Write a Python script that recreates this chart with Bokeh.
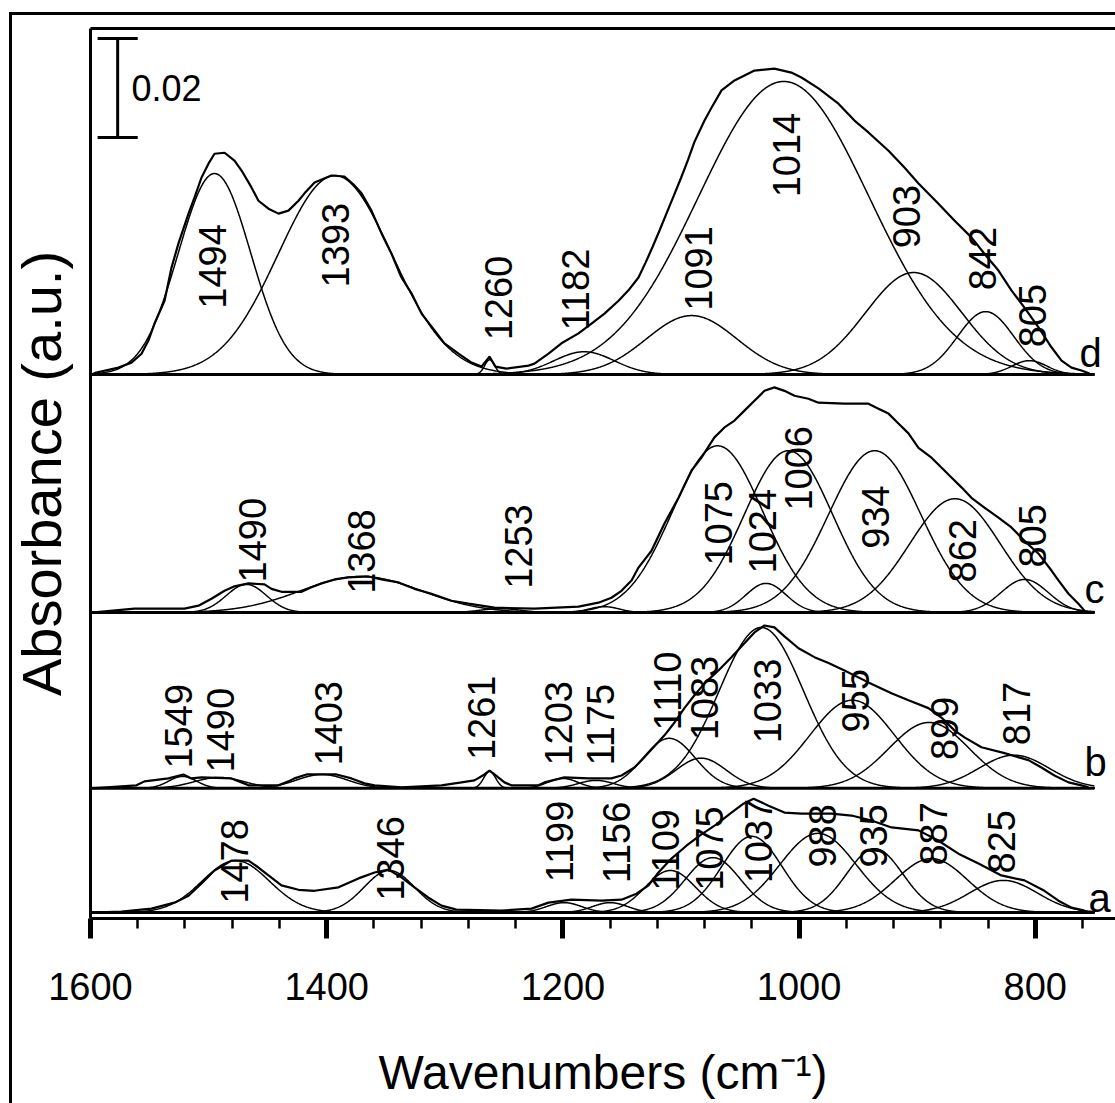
import numpy as np
from bokeh.plotting import figure
from bokeh.models import Range1d, LinearAxis, FixedTicker
from bokeh.core.properties import value
from bokeh.embed import file_html
from bokeh.resources import INLINE

# ---------------- data ----------------
# vertical offset (absorbance) of each spectrum's baseline
spectrum_names = ["a", "b", "c", "d"]
spectrum_offsets = [0.0012, 0.0263, 0.0618, 0.1099]
wn_first, wn_last = 1600, 750

# measured spectra (wavenumber, absorbance above own baseline)
a_env = [(1599.2,0.0000),(1573.8,0.0002),(1548.4,0.0008),(1528.9,0.0020),(1517.0,0.0034),(1506.0,0.0059),
         (1495.0,0.0085),(1480.6,0.0105),(1466.2,0.0105),(1457.8,0.0091),(1449.3,0.0075),(1438.3,0.0055),
         (1423.9,0.0046),(1410.3,0.0044),(1390.0,0.0051),(1373.1,0.0069),(1359.5,0.0081),(1347.7,0.0087),
         (1336.7,0.0071),(1325.7,0.0051),(1313.8,0.0030),(1302.8,0.0014),(1290.1,0.0006),(1252.0,0.0004),
         (1226.6,0.0008),(1212.2,0.0020),(1192.7,0.0026),(1167.3,0.0024),(1150.4,0.0026),(1137.7,0.0038),
         (1127.5,0.0055),(1119.1,0.0081),(1108.1,0.0109),(1095.4,0.0135),(1082.7,0.0158),(1070.0,0.0178),
         (1057.3,0.0202),(1047.1,0.0220),(1038.6,0.0230),(1025.9,0.0216),(1012.4,0.0202),(998.0,0.0200),
         (972.6,0.0200),(955.6,0.0196),(938.7,0.0186),(921.8,0.0172),(898.9,0.0166),(882.0,0.0145),
         (865.1,0.0119),(848.1,0.0099),(828.7,0.0075),(809.2,0.0065),(792.3,0.0044),(780.4,0.0024),
         (769.4,0.0010),(758.4,0.0004)]
b_env = [(1599.2,0.0000),(1561.1,0.0006),(1554.3,0.0014),(1534.0,0.0020),(1521.3,0.0028),(1514.5,0.0020),
         (1506.0,0.0022),(1480.6,0.0020),(1472.1,0.0012),(1466.2,0.0006),(1440.8,0.0006),(1432.4,0.0014),
         (1427.3,0.0020),(1417.1,0.0028),(1391.7,0.0028),(1379.0,0.0020),(1368.0,0.0010),(1359.5,0.0006),
         (1336.7,0.0002),(1302.8,0.0006),(1285.9,0.0012),(1274.9,0.0016),(1266.4,0.0028),(1262.2,0.0036),
         (1257.9,0.0028),(1249.5,0.0012),(1243.5,0.0006),(1220.7,0.0006),(1215.6,0.0012),(1198.7,0.0022),
         (1178.3,0.0020),(1158.9,0.0020),(1150.4,0.0026),(1139.4,0.0042),(1130.9,0.0063),(1122.5,0.0085),
         (1114.0,0.0107),(1105.5,0.0133),(1097.1,0.0162),(1088.6,0.0188),(1080.1,0.0212),(1068.3,0.0238),
         (1057.3,0.0265),(1046.3,0.0293),(1037.8,0.0315),(1029.3,0.0329),(1020.9,0.0325),(1012.4,0.0307),
         (1000.5,0.0283),(987.0,0.0265),(975.1,0.0253),(961.6,0.0238),(941.3,0.0214),(921.8,0.0192),
         (907.4,0.0178),(890.5,0.0162),(879.5,0.0143),(868.5,0.0117),(860.0,0.0103),(845.6,0.0083),
         (826.1,0.0071),(805.8,0.0057),(794.8,0.0042),(783.8,0.0026),(771.9,0.0012),(760.9,0.0006),
         (755.0,0.0002)]
c_env = [(1599.2,0.0000),(1562.7,0.0008),(1520.4,0.0008),(1508.6,0.0014),(1497.6,0.0028),(1486.5,0.0044),
         (1478.1,0.0053),(1466.2,0.0059),(1452.7,0.0057),(1446.7,0.0048),(1438.3,0.0042),(1421.3,0.0042),
         (1412.9,0.0051),(1404.4,0.0059),(1393.4,0.0067),(1381.6,0.0071),(1364.6,0.0073),(1353.6,0.0067),
         (1339.2,0.0061),(1325.7,0.0048),(1311.3,0.0038),(1294.3,0.0024),(1280.0,0.0018),(1258.0,0.0010),
         (1224.1,0.0008),(1186.8,0.0012),(1169.9,0.0020),(1158.9,0.0030),(1150.4,0.0044),(1141.9,0.0065),
         (1136.0,0.0091),(1125.0,0.0125),(1114.0,0.0180),(1102.1,0.0232),(1091.1,0.0287),(1082.7,0.0313),
         (1071.7,0.0354),(1063.2,0.0374),(1054.7,0.0388),(1046.3,0.0408),(1037.8,0.0428),(1029.3,0.0448),
         (1020.9,0.0455),(1012.4,0.0448),(1003.9,0.0438),(992.1,0.0432),(983.6,0.0424),(961.6,0.0422),
         (941.3,0.0422),(932.8,0.0412),(924.3,0.0402),(915.9,0.0382),(907.4,0.0362),(898.9,0.0333),
         (887.9,0.0313),(879.5,0.0293),(871.0,0.0273),(862.5,0.0253),(854.1,0.0232),(843.1,0.0212),
         (831.2,0.0192),(820.2,0.0172),(809.2,0.0145),(797.3,0.0119),(786.3,0.0085),(780.4,0.0065),
         (771.9,0.0038),(763.5,0.0018),(758.4,0.0004)]
d_env = [(1599.2,0.0000),(1595.0,0.0004),(1576.3,0.0014),(1565.3,0.0024),(1556.8,0.0042),(1550.9,0.0069),
         (1545.8,0.0103),(1537.3,0.0149),(1531.4,0.0216),(1525.5,0.0265),(1517.0,0.0325),(1511.9,0.0358),
         (1506.0,0.0398),(1500.1,0.0426),(1495.0,0.0446),(1486.5,0.0448),(1478.1,0.0432),(1472.1,0.0412),
         (1463.7,0.0378),(1457.8,0.0351),(1449.3,0.0335),(1440.8,0.0325),(1432.4,0.0331),(1423.9,0.0351),
         (1418.8,0.0366),(1410.3,0.0388),(1396.0,0.0402),(1385.0,0.0400),(1376.5,0.0382),(1370.5,0.0366),
         (1362.1,0.0331),(1353.6,0.0285),(1345.1,0.0244),(1336.7,0.0196),(1328.2,0.0164),(1319.7,0.0123),
         (1308.7,0.0089),(1300.3,0.0063),(1288.4,0.0042),(1277.4,0.0024),(1268.9,0.0016),(1262.2,0.0036),
         (1257.1,0.0016),(1247.8,0.0012),(1229.1,0.0018),(1224.1,0.0022),(1212.2,0.0042),(1201.2,0.0063),
         (1186.8,0.0083),(1175.8,0.0103),(1164.8,0.0123),(1152.9,0.0149),(1144.5,0.0170),(1136.0,0.0196),
         (1130.0,0.0226),(1124.0,0.0258),(1118.0,0.0292),(1112.0,0.0327),(1106.0,0.0362),(1100.0,0.0397),
         (1094.0,0.0434),(1088.6,0.0470),(1080.1,0.0513),(1074.2,0.0539),(1065.7,0.0574),(1054.7,0.0594),
         (1037.8,0.0614),(1020.9,0.0618),(1006.5,0.0610),(998.0,0.0600),(983.6,0.0578),(966.7,0.0547),
         (953.1,0.0513),(941.3,0.0489),(924.3,0.0452),(910.8,0.0418),(898.9,0.0386),(882.0,0.0345),
         (868.5,0.0311),(854.1,0.0277),(843.1,0.0244),(831.2,0.0210),(820.2,0.0170),(809.2,0.0135),
         (797.3,0.0095),(786.3,0.0055),(777.8,0.0028),(769.4,0.0014),(760.9,0.0008),(754.1,0.0002)]

# fitted bands: centre (cm-1), height (absorbance), FWHM (cm-1)
a_center = [1477, 1347, 1199, 1160, 1109, 1073, 1040, 984, 936, 888, 827]
a_height = [0.0105, 0.0085, 0.0020, 0.0020, 0.0085, 0.0111, 0.0154, 0.0160, 0.0129, 0.0109, 0.0065]
a_fwhm = [67, 50, 35, 35, 50, 55, 60, 76, 56, 72, 68]

b_center = [1522, 1491, 1404, 1262, 1200, 1172, 1110, 1083, 1032, 955, 890, 818]
b_height = [0.0024, 0.0022, 0.0028, 0.0034, 0.0020, 0.0016, 0.0101, 0.0061, 0.0325, 0.0178, 0.0133, 0.0067]
b_fwhm = [28, 50, 50, 12, 30, 35, 52, 50, 84, 84, 80, 70]

c_center = [1468, 1371, 1253, 1165, 1069, 1028, 1009, 936, 868, 809]
c_height = [0.0057, 0.0073, 0.0008, 0.0012, 0.0337, 0.0059, 0.0327, 0.0327, 0.0230, 0.0067]
c_fwhm = [40, 120, 40, 30, 90, 40, 88, 92, 90, 47]

d_center = [1495, 1393, 1262, 1182, 1091, 1013, 903, 842, 805]
d_height = [0.0406, 0.0402, 0.0030, 0.0046, 0.0119, 0.0592, 0.0206, 0.0127, 0.0028]
d_fwhm = [72, 113, 10, 60, 90, 170, 96, 56, 35]

# band labels: text, position (cm-1), height of label start above baseline
a_labels = ["1478", "1346", "1199", "1156", "1109", "1075", "1037", "988", "935", "887", "825"]
a_label_wn = [1478.1, 1346.0, 1202.9, 1154.6, 1113.1, 1075.9, 1034.4, 980.2, 937.0, 886.2, 828.7]
a_label_y = [0.0018, 0.0024, 0.0061, 0.0059, 0.0044, 0.0044, 0.0059, 0.0091, 0.0091, 0.0095, 0.0079]

b_labels = ["1549", "1490", "1403", "1261", "1203", "1175", "1110", "1083", "1033", "955", "899", "817"]
b_label_wn = [1525.5, 1489.9, 1398.5, 1268.9, 1203.7, 1168.2, 1111.5, 1080.1, 1026.8, 952.3, 876.9, 815.9]
b_label_y = [0.0040, 0.0032, 0.0046, 0.0057, 0.0046, 0.0046, 0.0117, 0.0097, 0.0091, 0.0113, 0.0057, 0.0087]

c_labels = ["1490", "1368", "1253", "1075", "1024", "1006", "934", "862", "805"]
c_label_wn = [1462.8, 1370.5, 1237.6, 1068.3, 1031.0, 1000.5, 935.3, 861.7, 802.4]
c_label_y = [0.0061, 0.0038, 0.0048, 0.0095, 0.0079, 0.0206, 0.0129, 0.0061, 0.0091]

d_labels = ["1494", "1393", "1260", "1182", "1091", "1014", "903", "842", "805"]
d_label_wn = [1496.7, 1392.6, 1254.5, 1189.4, 1085.2, 1010.7, 909.1, 844.7, 802.4]
d_label_y = [0.0133, 0.0176, 0.0069, 0.0089, 0.0129, 0.0358, 0.0255, 0.0170, 0.0055]

# spectrum letters: position (cm-1) and height above baseline
letter_wn = [755.0, 758.4, 758.4, 762.6]
letter_y = [0.0030, 0.0053, 0.0048, 0.0044]

scale_bar_value = 0.02
x_major_ticks = [1600, 1400, 1200, 1000, 800]

SANS = "Liberation Sans"

# ---------------- figure ----------------
p = figure(width=1115, height=1103,
           x_range=Range1d(1600.0, 732.1), y_range=Range1d(0, 0.1798),
           output_backend="svg", toolbar_location=None,
           min_border_left=90, min_border_right=0, min_border_top=28, min_border_bottom=185)
p.styles = {"background": "linear-gradient(#000,#000) 9px 12px / 3px 1091px no-repeat, "
                          "linear-gradient(#000,#000) 9px 12px / 1106px 3px no-repeat, #fff"}
p.border_fill_color = None
p.background_fill_color = "white"
p.outline_line_color = None
p.xgrid.visible = False
p.ygrid.visible = False

# bottom axis
xa = p.xaxis[0]
minor = [t for t in range(1600, 740, -40) if t % 200 != 0]
xa.ticker = FixedTicker(ticks=x_major_ticks, minor_ticks=minor)
xa.axis_line_width = 3
xa.axis_line_color = "black"
xa.major_tick_line_width = 5
xa.major_tick_out = 20
xa.major_tick_in = 0
xa.minor_tick_line_width = 2.5
xa.minor_tick_out = 10
xa.minor_tick_in = 0
xa.major_label_text_font = SANS
xa.major_label_text_font_size = "38px"
xa.major_label_text_color = "black"
xa.major_label_standoff = 34
xa.axis_label = "Wavenumbers (cm\u207b\u00b9)"
xa.axis_label_text_font = SANS
xa.axis_label_text_font_size = "48px"
xa.axis_label_text_font_style = "normal"
xa.axis_label_text_color = "black"
xa.axis_label_standoff = 43

# left axis (line + title only)
ya = p.yaxis[0]
ya.ticker = FixedTicker(ticks=[])
ya.major_tick_out = 0
ya.major_tick_in = 0
ya.minor_tick_out = 0
ya.minor_tick_in = 0
ya.major_label_standoff = 0
ya.axis_line_width = 3
ya.axis_line_color = "black"
ya.axis_label = "Absorbance (a.u.)"
ya.axis_label_text_font = SANS
ya.axis_label_text_font_size = "56px"
ya.axis_label_text_font_style = "normal"
ya.axis_label_text_color = "black"
ya.axis_label_standoff = 18

# top frame line
top = LinearAxis(ticker=FixedTicker(ticks=[]), axis_line_width=3, axis_line_color="black",
                 major_tick_out=0, major_tick_in=0, minor_tick_out=0, minor_tick_in=0,
                 major_label_standoff=0)
p.add_layout(top, "above")

grid = np.linspace(wn_first, wn_last, 1701)

envs = [a_env, b_env, c_env, d_env]
centers = [a_center, b_center, c_center, d_center]
heights = [a_height, b_height, c_height, d_height]
fwhms = [a_fwhm, b_fwhm, c_fwhm, d_fwhm]
labels = [a_labels, b_labels, c_labels, d_labels]
label_wns = [a_label_wn, b_label_wn, c_label_wn, d_label_wn]
label_ys = [a_label_y, b_label_y, c_label_y, d_label_y]

for i, name in enumerate(spectrum_names):
    off = spectrum_offsets[i]
    # baseline
    p.line([wn_first, wn_last], [off, off], line_color="black", line_width=3)
    # fitted bands
    xs, ys = [], []
    for c, h, w in zip(centers[i], heights[i], fwhms[i]):
        xs.append(grid)
        ys.append(off + h * np.exp(-4 * np.log(2) * (grid - c) ** 2 / w ** 2))
    p.multi_line(xs, ys, line_color="black", line_width=1.5)
    # measured spectrum
    ex = [pt[0] for pt in envs[i]]
    ey = [off + pt[1] for pt in envs[i]]
    p.line(ex, ey, line_color="black", line_width=2.2)
    # band labels
    p.text(x=label_wns[i], y=[off + v for v in label_ys[i]], text=labels[i],
           angle=np.pi / 2, text_align="left", text_baseline="middle",
           text_font=value(SANS), text_font_size="38px", text_color="black")
    # spectrum letter
    p.text(x=[letter_wn[i]], y=[off + letter_y[i]], text=[name],
           text_align="left", text_baseline="alphabetic",
           text_font=value(SANS), text_font_size="40px", text_color="black")

# scale bar
bar_x, bar_cap, bar_top = 1577.0, 17.0, 0.1778
p.segment(x0=[bar_x, bar_x - bar_cap, bar_x - bar_cap],
          y0=[bar_top, bar_top, bar_top - scale_bar_value],
          x1=[bar_x, bar_x + bar_cap, bar_x + bar_cap],
          y1=[bar_top - scale_bar_value, bar_top, bar_top - scale_bar_value],
          line_color="black", line_width=3)
p.text(x=[1565.3], y=[bar_top - scale_bar_value / 2], text=[f"{scale_bar_value:.2f}"],
       text_align="left", text_baseline="middle",
       text_font=value(SANS), text_font_size="36px", text_color="black")

open("out.html", "w").write(file_html(p, INLINE))
